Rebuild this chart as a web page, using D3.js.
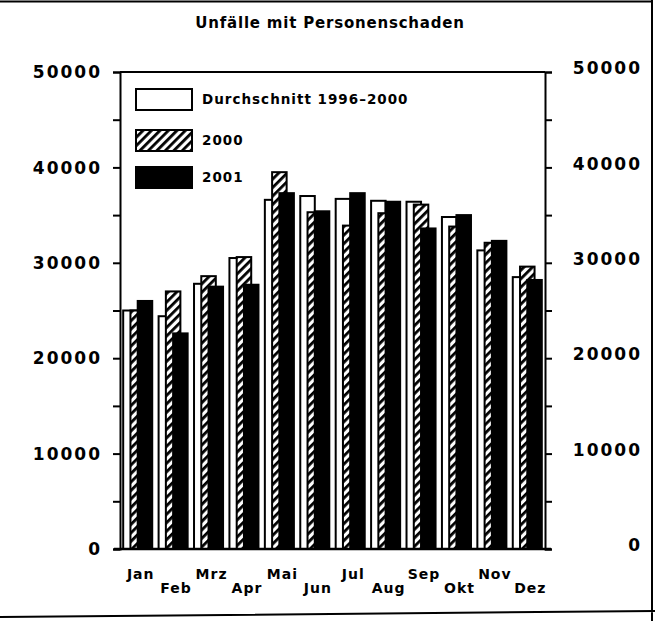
<!DOCTYPE html>
<html><head><meta charset="utf-8">
<script src="https://cdn.jsdelivr.net/npm/d3@7"></script>
<style>body{margin:0;background:#fff}svg{display:block}text{font-family:"DejaVu Sans",sans-serif;font-weight:bold;fill:#000}</style>
</head><body>
<script>
const months = ["Jan","Feb","Mrz","Apr","Mai","Jun","Jul","Aug","Sep","Okt","Nov","Dez"];
const seriesNames = ["Durchschnitt 1996\u20132000","2000","2001"];
const avg9600 = [25000,24400,27800,30500,36600,37000,36700,36500,36400,34800,31300,28500];
const y2000   = [25000,27000,28600,30600,39500,35300,33900,35200,36100,33800,32100,29600];
const y2001   = [26000,22600,27500,27700,37300,35400,37300,36400,33600,35000,32300,28200];
const yTicks = [0,10000,20000,30000,40000,50000];
const title = "Unfälle mit Personenschaden";

const W=659,H=621;
const svg=d3.select("body").append("svg").attr("width",W).attr("height",H);
const defs=svg.append("defs");
const pat=defs.append("pattern").attr("id","hatch").attr("patternUnits","userSpaceOnUse")
  .attr("width",6).attr("height",6).attr("patternTransform","rotate(45)");
pat.append("rect").attr("width",6).attr("height",6).attr("fill","#fff");
pat.append("rect").attr("width",2.8).attr("height",6).attr("fill","#000");

const L=120,R=545,T=72,B=549;
const x=d3.scaleBand().domain(months).range([L,R]).paddingInner(0.18).paddingOuter(0.09);
const y=d3.scaleLinear().domain([0,50000]).range([B,T]);
const bw=x.bandwidth()*0.5;
const off=d3.scalePoint().domain(seriesNames).range([0,x.bandwidth()-bw]);

// outer frame
svg.append("path").attr("d","M0,1.5L652,1.5M652,0L652,621M0,617L655,611").attr("stroke","#000").attr("stroke-width",2).attr("fill","none");

svg.append("text").attr("x",330).attr("y",28).attr("text-anchor","middle")
  .style("font-size","15px").style("letter-spacing","0.8px").text(title);

// top frame line
svg.append("line").attr("x1",L).attr("x2",R).attr("y1",T).attr("y2",T).attr("stroke","#000").attr("stroke-width",2);

const series=[
  {name:seriesNames[0],vals:avg9600,fill:"#fff"},
  {name:seriesNames[1],vals:y2000,fill:"url(#hatch)"},
  {name:seriesNames[2],vals:y2001,fill:"#000"}
];
series.forEach(s=>{
  svg.append("g").selectAll("rect").data(months).join("rect")
    .attr("x",(m)=>x(m)+off(s.name))
    .attr("y",(m,i)=>y(s.vals[i]))
    .attr("width",bw)
    .attr("height",(m,i)=>B-y(s.vals[i]))
    .attr("fill",s.fill).attr("stroke","#000").attr("stroke-width",2);
});

// axes
const minor=d3.range(0,50001,5000);
const gl=svg.append("g").attr("transform",`translate(${L},0)`).call(d3.axisLeft(y).tickValues(minor).tickSize(7).tickFormat(""));
const gr=svg.append("g").attr("transform",`translate(${R},0)`).call(d3.axisRight(y).tickValues(minor).tickSize(7).tickFormat(""));
[gl,gr].forEach(g=>{g.select(".domain").attr("stroke-width",2);g.selectAll("line").attr("stroke-width",2);});

svg.append("line").attr("x1",L-6).attr("x2",R+6).attr("y1",B).attr("y2",B).attr("stroke","#000").attr("stroke-width",2.5);

svg.append("g").selectAll("text").data(yTicks).join("text")
  .attr("x",102).attr("y",d=>y(d)).attr("dy","0.36em").attr("text-anchor","end")
  .style("font-size","17px").style("letter-spacing","2px").text(d=>d);
svg.append("g").selectAll("text").data(yTicks).join("text")
  .attr("x",642).attr("y",d=>y(d)-4).attr("dy","0.36em").attr("text-anchor","end")
  .style("font-size","17px").style("letter-spacing","2px").text(d=>d);

// month labels staggered
svg.append("g").selectAll("text").data(months).join("text")
  .attr("x",m=>x(m)+x.bandwidth()/2+3)
  .attr("y",(m,i)=>i%2===0?579:593)
  .attr("text-anchor","middle").style("font-size","14px").style("letter-spacing","1px").text(m=>m);

// legend
const lg=svg.append("g");
series.forEach((s,i)=>{
  const yy=[89,130,167][i];
  lg.append("rect").attr("x",136).attr("y",yy).attr("width",56).attr("height",21)
    .attr("fill",s.fill).attr("stroke","#000").attr("stroke-width",2);
  lg.append("text").attr("x",202).attr("y",yy+10.5).attr("dy","0.36em")
    .style("font-size","13.5px").style("letter-spacing","1px").text(s.name);
});
</script>
</body></html>
